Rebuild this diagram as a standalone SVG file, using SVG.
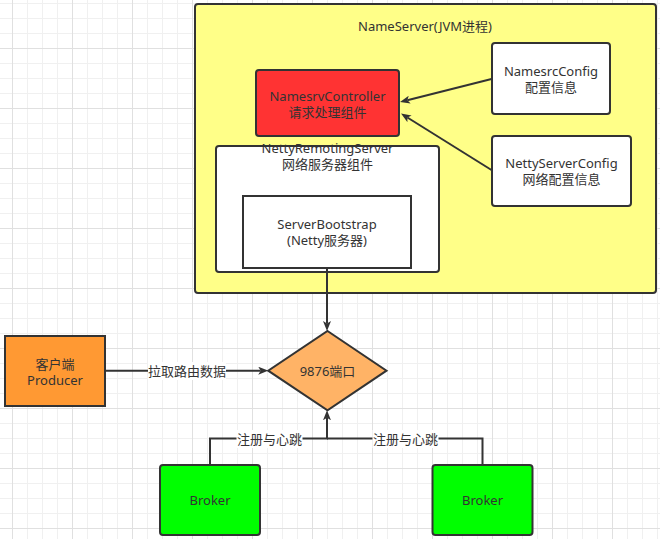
<svg xmlns="http://www.w3.org/2000/svg" width="660" height="539" viewBox="0 0 660 539">
<style>
text{font-family:"Noto Sans","Noto Sans CJK SC",sans-serif;font-size:13px;fill:#333;text-anchor:middle;dominant-baseline:central}
.box{stroke:#333;stroke-width:2}
.conn{fill:none;stroke:#333;stroke-width:2}
</style>
<defs>
<pattern id="grid" patternUnits="userSpaceOnUse" x="12" y="48" width="60" height="60">
<path d="M15.5,0V60M30.5,0V60M45.5,0V60M0,15.5H60M0,30.5H60M0,45.5H60" stroke="#f0f0f0" stroke-width="1" fill="none"/>
<path d="M0.5,0V60M0,0.5H60" stroke="#e0e0e0" stroke-width="1" fill="none"/>
</pattern>
<marker id="arr" viewBox="0 0 10 8" refX="2.5" refY="4" markerWidth="10" markerHeight="8" markerUnits="userSpaceOnUse" orient="auto">
<path d="M0,0L10,4L0,8L2.5,4Z" fill="#333"/>
</marker>
</defs>
<rect width="660" height="539" fill="#fff"/>
<rect width="660" height="539" fill="url(#grid)"/>
<g id="nameserver">
<rect class="box" x="195" y="4" width="461" height="289" rx="3" fill="#ffff88"/>
<text x="425" y="26">NameServer(JVM进程)</text>
</g>
<g id="namesrvcontroller">
<rect class="box" x="256" y="70" width="143" height="66" rx="3" fill="#ff3333"/>
<text><tspan x="327.5" y="96">NamesrvController</tspan><tspan x="327.5" y="112">请求处理组件</tspan></text>
</g>
<g id="namesrcconfig">
<rect class="box" x="492" y="43" width="118" height="71" rx="3" fill="#fff"/>
<text><tspan x="551" y="71">NamesrcConfig</tspan><tspan x="551" y="87">配置信息</tspan></text>
</g>
<g id="nettyserverconfig">
<rect class="box" x="492" y="136" width="139" height="70" rx="3" fill="#fff"/>
<text><tspan x="561.5" y="163">NettyServerConfig</tspan><tspan x="561.5" y="179">网络配置信息</tspan></text>
</g>
<g id="nettyremotingserver">
<rect class="box" x="216" y="146" width="223" height="126" rx="3" fill="#fff"/>
<text><tspan x="327.5" y="148">NettyRemotingServer</tspan><tspan x="327.5" y="164">网络服务器组件</tspan></text>
</g>
<g id="serverbootstrap">
<rect class="box" x="243" y="196" width="168" height="72" fill="#fff"/>
<text><tspan x="327" y="224">ServerBootstrap</tspan><tspan x="327" y="240">(Netty服务器)</tspan></text>
</g>
<g id="port">
<polygon class="box" points="327.5,331 386.5,370.7 327.5,410.3 268.2,370.7" fill="#ffb366"/>
<text x="327.5" y="370.7">9876端口</text>
</g>
<g id="producer">
<rect class="box" x="5" y="336" width="100" height="70" fill="#ff9933"/>
<text><tspan x="55" y="363.5">客户端</tspan><tspan x="55" y="379.5">Producer</tspan></text>
</g>
<g id="broker1">
<rect class="box" x="160" y="465" width="100" height="70" rx="3" fill="#00ff00"/>
<text x="210" y="500">Broker</text>
</g>
<g id="broker2">
<rect class="box" x="432.5" y="465" width="100" height="70" rx="3" fill="#00ff00"/>
<text x="482.5" y="500">Broker</text>
</g>
<g id="connectors">
<path class="conn" d="M491.5,79L407.3,100.2" marker-end="url(#arr)"/>
<path class="conn" d="M491.5,170L407.4,117.5" marker-end="url(#arr)"/>
<path class="conn" d="M327,268V323.5" marker-end="url(#arr)"/>
<path class="conn" d="M105,370.7H260.7" marker-end="url(#arr)"/>
<path class="conn" d="M210,465V438.5H327V417.8" marker-end="url(#arr)"/>
<path class="conn" d="M482.5,465V438.5H327"/>
<rect x="148" y="362" width="78" height="18" fill="#fff"/>
<text x="187" y="370.7">拉取路由数据</text>
<rect x="236.5" y="430" width="66" height="18" fill="#fff"/>
<text x="269.5" y="438.5">注册与心跳</text>
<rect x="372.5" y="430" width="66" height="18" fill="#fff"/>
<text x="405.5" y="438.5">注册与心跳</text>
</g>
</svg>
